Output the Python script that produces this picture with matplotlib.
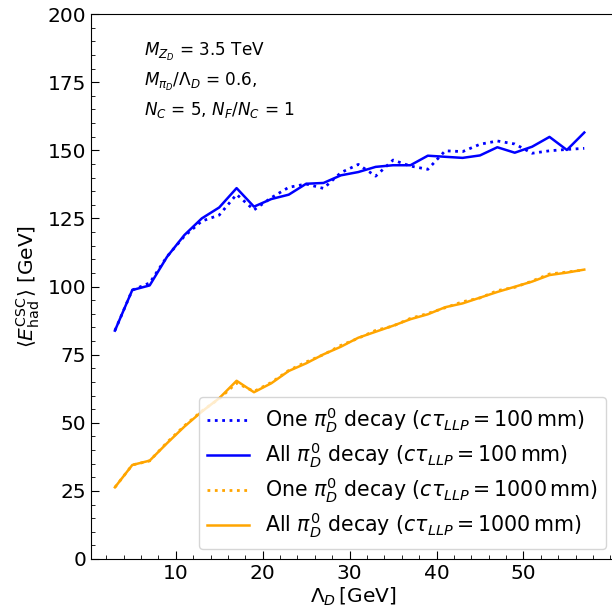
import matplotlib
matplotlib.use("Agg")
import matplotlib.pyplot as plt
from matplotlib.ticker import MultipleLocator

lambda_d = [3, 5, 7, 9, 11, 13, 15, 17, 19, 21, 23, 25, 27, 29, 31, 33, 35, 37, 39, 41, 43, 45, 47, 49, 51, 53, 55, 57]

one_100 = [83.8, 98.7, 101.3, 111.0, 118.5, 124.0, 126.2, 133.8, 128.1, 132.6, 136.4, 137.6, 136.0, 141.8,
           144.8, 140.5, 146.4, 144.2, 143.0, 149.8, 149.5, 152.2, 153.4, 152.3, 148.9, 149.8, 150.3, 150.7]
all_100 = [83.8, 98.7, 100.4, 110.9, 118.9, 125.0, 129.0, 136.1, 129.3, 132.1, 133.7, 137.7, 138.0, 140.8,
           142.0, 143.9, 144.5, 144.5, 148.0, 147.6, 147.2, 148.1, 151.1, 149.1, 151.3, 154.9, 150.1, 156.5]
one_1000 = [26.3, 34.5, 36.0, 42.8, 48.9, 54.3, 58.8, 64.6, 61.5, 64.8, 69.2, 72.3, 75.0, 78.4,
            81.0, 83.9, 85.5, 88.3, 90.1, 92.2, 94.4, 95.8, 98.5, 99.7, 102.0, 104.6, 105.3, 106.1]
all_1000 = [26.3, 34.5, 36.1, 42.5, 48.6, 54.1, 59.0, 65.4, 61.2, 64.5, 69.0, 71.8, 75.1, 77.9,
            81.2, 83.4, 85.6, 88.0, 89.8, 92.4, 93.8, 95.9, 98.0, 99.9, 101.8, 104.2, 105.1, 106.2]

x_ticks = [10, 20, 30, 40, 50]

labels = [r'One $\pi_D^0$ decay ($c\tau_{LLP} = 100\,$mm)',
          r'All $\pi_D^0$ decay ($c\tau_{LLP} = 100\,$mm)',
          r'One $\pi_D^0$ decay ($c\tau_{LLP} = 1000\,$mm)',
          r'All $\pi_D^0$ decay ($c\tau_{LLP} = 1000\,$mm)']

W, H = 612, 616
fig = plt.figure(figsize=(W / 100, H / 100), dpi=100)
left, right, bottom, top = 91, 616, 559, 14
ax = fig.add_axes([left / W, 1 - bottom / H, (right - left) / W, (bottom - top) / H])

ax.plot(lambda_d, one_100, color='blue', ls=':', lw=2.0, label=labels[0])
ax.plot(lambda_d, all_100, color='blue', ls='-', lw=1.8, label=labels[1])
ax.plot(lambda_d, one_1000, color='orange', ls=':', lw=2.0, label=labels[2])
ax.plot(lambda_d, all_1000, color='orange', ls='-', lw=1.8, label=labels[3])

ax.set_xlim(0.25, 60.65)
ax.set_ylim(0, 200)
ax.set_xticks(x_ticks)
ax.xaxis.set_minor_locator(MultipleLocator(2))
ax.yaxis.set_major_locator(MultipleLocator(25))
ax.yaxis.set_minor_locator(MultipleLocator(5))
ax.tick_params(which='both', direction='in', labelsize=14.5)
ax.tick_params(which='major', length=6)
ax.tick_params(which='minor', length=3)
ax.spines['right'].set_visible(False)

ax.set_xlabel(r'$\Lambda_D\,$[GeV]', fontsize=14.5, labelpad=2)
ax.set_ylabel(r'$\langle E_{\rm had}^{\rm CSC}\rangle$ [GeV]', fontsize=14.5, labelpad=4)

ax.text(0.10, 0.95, r'$M_{Z_D}$ = 3.5 TeV' + '\n' + r'$M_{\pi_D}/\Lambda_D$ = 0.6,' + '\n' +
        r'$N_C$ = 5, $N_F/N_C$ = 1', transform=ax.transAxes, fontsize=12.2, va='top', ha='left',
        linespacing=1.5)

ax.legend(loc='lower right', fontsize=14.8, framealpha=0.8, borderaxespad=0.5,
          labelspacing=0.27, bbox_to_anchor=(1.0, 0.0))

fig.savefig('out.png', dpi=100)
